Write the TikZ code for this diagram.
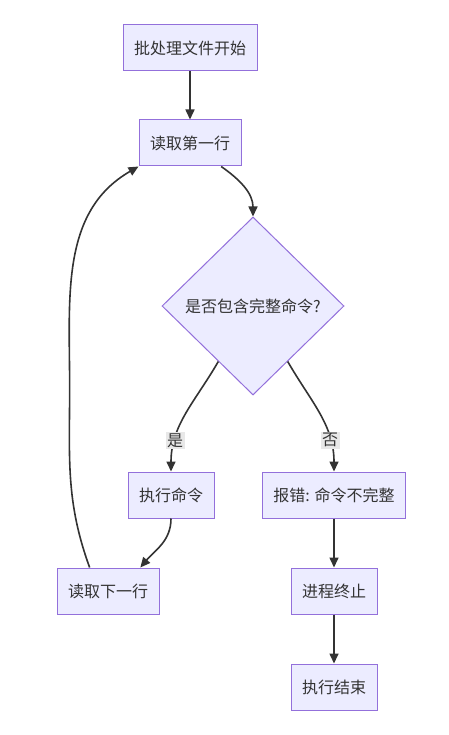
\documentclass[tikz,border=0pt]{standalone}
\usepackage{fontspec}
\newfontfamily\cjk{Noto Sans CJK SC}
\usetikzlibrary{arrows.meta,shapes.geometric}
\definecolor{boxfill}{HTML}{ECECFF}
\definecolor{boxline}{HTML}{9370DB}
\definecolor{edge}{HTML}{333333}
\definecolor{tagfill}{HTML}{E8E8E8}
\tikzset{
  box/.style={draw=boxline,fill=boxfill,line width=1pt,minimum height=46pt,inner xsep=11pt,text=edge,font=\cjk\fontsize{16}{19}\selectfont},
  choice/.style={box,diamond,shape aspect=1,minimum width=182pt,minimum height=178pt,inner sep=0pt},
  flow/.style={draw=edge,line width=1.6pt,-{Triangle[length=10pt,width=9pt]}},
  tag/.style={fill=tagfill,inner sep=1.5pt,text=edge,font=\cjk\fontsize{16}{19}\selectfont}
}
\begin{document}
\begin{tikzpicture}[x=1pt,y=1pt]
\useasboundingbox[fill=white] (0,0) rectangle (448,-735);
\node[box] (start) at (190,-48) {批处理文件开始};
\node[box] (first) at (190,-143) {读取第一行};
\node[choice] (check) at (253,-306) {是否包含完整命令?};
\node[box] (run) at (171,-495) {执行命令};
\node[box] (fail) at (334,-495) {报错: 命令不完整};
\node[box] (next) at (108,-591) {读取下一行};
\node[box] (halt) at (334,-591) {进程终止};
\node[box] (finish) at (334,-687) {执行结束};
\draw[flow] (start) -- (first);
\draw[flow] (first.-37) to[out=-35,in=90] (check.north);
\draw[flow] (check.-122) to[out=-120,in=90] node[tag,pos=0.75] {是} (run.north);
\draw[flow] (check.-58) to[out=-60,in=90] node[tag,pos=0.75] {否} (fail.north);
\draw[flow] (run.south) to[out=-90,in=50] (next.36);
\draw[flow] (next.128) to[out=110,in=-90] ++(-20,180) to[out=90,in=210] (first.south west);
\draw[flow] (fail) -- (halt);
\draw[flow] (halt) -- (finish);
\end{tikzpicture}
\end{document}
